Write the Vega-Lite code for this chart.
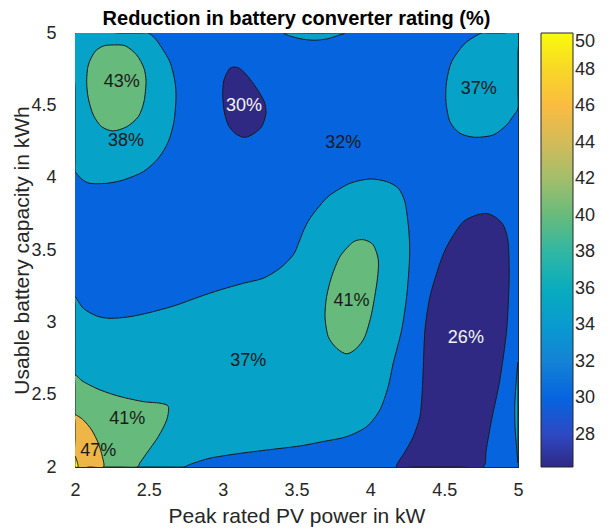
{
  "$schema": "https://vega.github.io/schema/vega-lite/v6.json",
  "width": 443,
  "height": 434,
  "autosize": {"type": "none"},
  "padding": {"left": 75, "top": 33, "right": 92, "bottom": 63},
  "background": "white",
  "title": {"text": "Reduction in battery converter rating (%)", "fontSize": 20, "fontWeight": "bold", "font": "Liberation Sans", "color": "#000000", "offset": -5, "anchor": "middle", "frame": "group"},
  "datasets": {
    "poly": [
      {"id":"B","L":0,"z":30,"i":0,"x":2,"y":2},{"id":"B","L":0,"z":30,"i":1,"x":5,"y":2},{"id":"B","L":0,"z":30,"i":2,"x":5,"y":5},{"id":"B","L":0,"z":30,"i":3,"x":2,"y":5},

      {"id":"C1","L":1,"z":35,"i":0,"x":2,"y":5},{"id":"C1","L":1,"z":35,"i":1,"x":2.3,"y":5},{"id":"C1","L":1,"z":35,"i":2,"x":2.45,"y":5},{"id":"C1","L":1,"z":35,"i":3,"x":2.496,"y":5},{"id":"C1","L":1,"z":35,"i":4,"x":2.54,"y":4.965},{"id":"C1","L":1,"z":35,"i":5,"x":2.575,"y":4.917},{"id":"C1","L":1,"z":35,"i":6,"x":2.643,"y":4.8},{"id":"C1","L":1,"z":35,"i":7,"x":2.677,"y":4.663},{"id":"C1","L":1,"z":35,"i":8,"x":2.684,"y":4.549},{"id":"C1","L":1,"z":35,"i":9,"x":2.67,"y":4.387},{"id":"C1","L":1,"z":35,"i":10,"x":2.632,"y":4.249},{"id":"C1","L":1,"z":35,"i":11,"x":2.564,"y":4.134},{"id":"C1","L":1,"z":35,"i":12,"x":2.462,"y":4.041},{"id":"C1","L":1,"z":35,"i":13,"x":2.327,"y":3.984},{"id":"C1","L":1,"z":35,"i":14,"x":2.215,"y":3.961},{"id":"C1","L":1,"z":35,"i":15,"x":2.1,"y":3.961},{"id":"C1","L":1,"z":35,"i":16,"x":2.045,"y":3.991},{"id":"C1","L":1,"z":35,"i":17,"x":2.011,"y":4.03},{"id":"C1","L":1,"z":35,"i":18,"x":2,"y":4.045},{"id":"C1","L":1,"z":35,"i":19,"x":2,"y":4.15},{"id":"C1","L":1,"z":35,"i":20,"x":2,"y":4.6},

      {"id":"C2","L":1,"z":35,"i":0,"x":3.42,"y":5},{"id":"C2","L":1,"z":35,"i":1,"x":3.47,"y":4.975},{"id":"C2","L":1,"z":35,"i":2,"x":3.55,"y":4.956},{"id":"C2","L":1,"z":35,"i":3,"x":3.63,"y":4.95},{"id":"C2","L":1,"z":35,"i":4,"x":3.71,"y":4.96},{"id":"C2","L":1,"z":35,"i":5,"x":3.78,"y":4.983},{"id":"C2","L":1,"z":35,"i":6,"x":3.82,"y":5},{"id":"C2","L":1,"z":35,"i":7,"x":3.62,"y":5},

      {"id":"C3","L":1,"z":35,"i":0,"x":5,"y":5},{"id":"C3","L":1,"z":35,"i":1,"x":4.9,"y":5},{"id":"C3","L":1,"z":35,"i":2,"x":4.8,"y":5},{"id":"C3","L":1,"z":35,"i":3,"x":4.754,"y":5},{"id":"C3","L":1,"z":35,"i":4,"x":4.69,"y":4.965},{"id":"C3","L":1,"z":35,"i":5,"x":4.63,"y":4.917},{"id":"C3","L":1,"z":35,"i":6,"x":4.55,"y":4.8},{"id":"C3","L":1,"z":35,"i":7,"x":4.516,"y":4.663},{"id":"C3","L":1,"z":35,"i":8,"x":4.512,"y":4.525},{"id":"C3","L":1,"z":35,"i":9,"x":4.539,"y":4.387},{"id":"C3","L":1,"z":35,"i":10,"x":4.607,"y":4.307},{"id":"C3","L":1,"z":35,"i":11,"x":4.708,"y":4.279},{"id":"C3","L":1,"z":35,"i":12,"x":4.832,"y":4.295},{"id":"C3","L":1,"z":35,"i":13,"x":4.923,"y":4.364},{"id":"C3","L":1,"z":35,"i":14,"x":4.97,"y":4.43},{"id":"C3","L":1,"z":35,"i":15,"x":5,"y":4.48},{"id":"C3","L":1,"z":35,"i":16,"x":5,"y":4.6},{"id":"C3","L":1,"z":35,"i":17,"x":5,"y":4.85},

      {"id":"C4","L":1,"z":35,"i":0,"x":2,"y":3.178},{"id":"C4","L":1,"z":35,"i":1,"x":2.056,"y":3.097},{"id":"C4","L":1,"z":35,"i":2,"x":2.147,"y":3.044},{"id":"C4","L":1,"z":35,"i":3,"x":2.237,"y":3.028},{"id":"C4","L":1,"z":35,"i":4,"x":2.372,"y":3.039},{"id":"C4","L":1,"z":35,"i":5,"x":2.53,"y":3.074},{"id":"C4","L":1,"z":35,"i":6,"x":2.689,"y":3.12},{"id":"C4","L":1,"z":35,"i":7,"x":2.846,"y":3.178},{"id":"C4","L":1,"z":35,"i":8,"x":2.982,"y":3.224},{"id":"C4","L":1,"z":35,"i":9,"x":3.139,"y":3.27},{"id":"C4","L":1,"z":35,"i":10,"x":3.275,"y":3.305},{"id":"C4","L":1,"z":35,"i":11,"x":3.388,"y":3.374},{"id":"C4","L":1,"z":35,"i":12,"x":3.478,"y":3.466},{"id":"C4","L":1,"z":35,"i":13,"x":3.515,"y":3.55},{"id":"C4","L":1,"z":35,"i":14,"x":3.55,"y":3.64},{"id":"C4","L":1,"z":35,"i":15,"x":3.591,"y":3.719},{"id":"C4","L":1,"z":35,"i":16,"x":3.66,"y":3.81},{"id":"C4","L":1,"z":35,"i":17,"x":3.727,"y":3.88},{"id":"C4","L":1,"z":35,"i":18,"x":3.862,"y":3.961},{"id":"C4","L":1,"z":35,"i":19,"x":3.997,"y":3.991},{"id":"C4","L":1,"z":35,"i":20,"x":4.11,"y":3.973},{"id":"C4","L":1,"z":35,"i":21,"x":4.189,"y":3.927},{"id":"C4","L":1,"z":35,"i":22,"x":4.234,"y":3.834},{"id":"C4","L":1,"z":35,"i":23,"x":4.257,"y":3.673},{"id":"C4","L":1,"z":35,"i":24,"x":4.266,"y":3.54},{"id":"C4","L":1,"z":35,"i":25,"x":4.264,"y":3.408},{"id":"C4","L":1,"z":35,"i":26,"x":4.246,"y":3.178},{"id":"C4","L":1,"z":35,"i":27,"x":4.212,"y":2.947},{"id":"C4","L":1,"z":35,"i":28,"x":4.155,"y":2.717},{"id":"C4","L":1,"z":35,"i":29,"x":4.121,"y":2.556},{"id":"C4","L":1,"z":35,"i":30,"x":4.065,"y":2.395},{"id":"C4","L":1,"z":35,"i":31,"x":3.975,"y":2.279},{"id":"C4","L":1,"z":35,"i":32,"x":3.84,"y":2.21},{"id":"C4","L":1,"z":35,"i":33,"x":3.681,"y":2.176},{"id":"C4","L":1,"z":35,"i":34,"x":3.52,"y":2.145},{"id":"C4","L":1,"z":35,"i":35,"x":3.32,"y":2.12},{"id":"C4","L":1,"z":35,"i":36,"x":3.095,"y":2.091},{"id":"C4","L":1,"z":35,"i":37,"x":2.914,"y":2.061},{"id":"C4","L":1,"z":35,"i":38,"x":2.801,"y":2.026},{"id":"C4","L":1,"z":35,"i":39,"x":2.76,"y":2.01},{"id":"C4","L":1,"z":35,"i":40,"x":2.733,"y":2},{"id":"C4","L":1,"z":35,"i":41,"x":2.6,"y":2},{"id":"C4","L":1,"z":35,"i":42,"x":2.3,"y":2},{"id":"C4","L":1,"z":35,"i":43,"x":2,"y":2},{"id":"C4","L":1,"z":35,"i":44,"x":2,"y":2.3},{"id":"C4","L":1,"z":35,"i":45,"x":2,"y":2.7},{"id":"C4","L":1,"z":35,"i":46,"x":2,"y":3.0},{"id":"C4","L":1,"z":35,"i":47,"x":2,"y":3.12},

      {"id":"C5","L":1,"z":35,"i":0,"x":5,"y":2.72},{"id":"C5","L":1,"z":35,"i":1,"x":4.993,"y":2.65},{"id":"C5","L":1,"z":35,"i":2,"x":4.985,"y":2.55},{"id":"C5","L":1,"z":35,"i":3,"x":4.978,"y":2.42},{"id":"C5","L":1,"z":35,"i":4,"x":4.98,"y":2.28},{"id":"C5","L":1,"z":35,"i":5,"x":4.99,"y":2.14},{"id":"C5","L":1,"z":35,"i":6,"x":5,"y":2.03},{"id":"C5","L":1,"z":35,"i":7,"x":5,"y":2.2},{"id":"C5","L":1,"z":35,"i":8,"x":5,"y":2.5},

      {"id":"N1","L":1,"z":26.25,"i":0,"x":3.049,"y":4.756},{"id":"N1","L":1,"z":26.25,"i":1,"x":3.106,"y":4.76},{"id":"N1","L":1,"z":26.25,"i":2,"x":3.162,"y":4.71},{"id":"N1","L":1,"z":26.25,"i":3,"x":3.23,"y":4.618},{"id":"N1","L":1,"z":26.25,"i":4,"x":3.282,"y":4.525},{"id":"N1","L":1,"z":26.25,"i":5,"x":3.293,"y":4.445},{"id":"N1","L":1,"z":26.25,"i":6,"x":3.264,"y":4.352},{"id":"N1","L":1,"z":26.25,"i":7,"x":3.196,"y":4.295},{"id":"N1","L":1,"z":26.25,"i":8,"x":3.14,"y":4.279},{"id":"N1","L":1,"z":26.25,"i":9,"x":3.083,"y":4.307},{"id":"N1","L":1,"z":26.25,"i":10,"x":3.038,"y":4.364},{"id":"N1","L":1,"z":26.25,"i":11,"x":3.011,"y":4.456},{"id":"N1","L":1,"z":26.25,"i":12,"x":3.0,"y":4.572},{"id":"N1","L":1,"z":26.25,"i":13,"x":3.009,"y":4.675},

      {"id":"N2","L":1,"z":26.25,"i":0,"x":4.178,"y":2},{"id":"N2","L":1,"z":26.25,"i":1,"x":4.235,"y":2.105},{"id":"N2","L":1,"z":26.25,"i":2,"x":4.291,"y":2.21},{"id":"N2","L":1,"z":26.25,"i":3,"x":4.336,"y":2.349},{"id":"N2","L":1,"z":26.25,"i":4,"x":4.35,"y":2.5},{"id":"N2","L":1,"z":26.25,"i":5,"x":4.358,"y":2.671},{"id":"N2","L":1,"z":26.25,"i":6,"x":4.37,"y":2.947},{"id":"N2","L":1,"z":26.25,"i":7,"x":4.404,"y":3.178},{"id":"N2","L":1,"z":26.25,"i":8,"x":4.471,"y":3.408},{"id":"N2","L":1,"z":26.25,"i":9,"x":4.516,"y":3.52},{"id":"N2","L":1,"z":26.25,"i":10,"x":4.561,"y":3.6},{"id":"N2","L":1,"z":26.25,"i":11,"x":4.629,"y":3.696},{"id":"N2","L":1,"z":26.25,"i":12,"x":4.72,"y":3.742},{"id":"N2","L":1,"z":26.25,"i":13,"x":4.79,"y":3.752},{"id":"N2","L":1,"z":26.25,"i":14,"x":4.85,"y":3.725},{"id":"N2","L":1,"z":26.25,"i":15,"x":4.9,"y":3.673},{"id":"N2","L":1,"z":26.25,"i":16,"x":4.925,"y":3.6},{"id":"N2","L":1,"z":26.25,"i":17,"x":4.936,"y":3.52},{"id":"N2","L":1,"z":26.25,"i":18,"x":4.94,"y":3.293},{"id":"N2","L":1,"z":26.25,"i":19,"x":4.923,"y":2.947},{"id":"N2","L":1,"z":26.25,"i":20,"x":4.877,"y":2.602},{"id":"N2","L":1,"z":26.25,"i":21,"x":4.821,"y":2.326},{"id":"N2","L":1,"z":26.25,"i":22,"x":4.785,"y":2.12},{"id":"N2","L":1,"z":26.25,"i":23,"x":4.764,"y":2},{"id":"N2","L":1,"z":26.25,"i":24,"x":4.6,"y":2},{"id":"N2","L":1,"z":26.25,"i":25,"x":4.3,"y":2},

      {"id":"G1","L":2,"z":40,"i":0,"x":2.248,"y":4.917},{"id":"G1","L":2,"z":40,"i":1,"x":2.339,"y":4.912},{"id":"G1","L":2,"z":40,"i":2,"x":2.418,"y":4.848},{"id":"G1","L":2,"z":40,"i":3,"x":2.467,"y":4.756},{"id":"G1","L":2,"z":40,"i":4,"x":2.481,"y":4.663},{"id":"G1","L":2,"z":40,"i":5,"x":2.467,"y":4.525},{"id":"G1","L":2,"z":40,"i":6,"x":2.429,"y":4.422},{"id":"G1","L":2,"z":40,"i":7,"x":2.35,"y":4.352},{"id":"G1","L":2,"z":40,"i":8,"x":2.259,"y":4.323},{"id":"G1","L":2,"z":40,"i":9,"x":2.181,"y":4.352},{"id":"G1","L":2,"z":40,"i":10,"x":2.124,"y":4.433},{"id":"G1","L":2,"z":40,"i":11,"x":2.09,"y":4.549},{"id":"G1","L":2,"z":40,"i":12,"x":2.079,"y":4.663},{"id":"G1","L":2,"z":40,"i":13,"x":2.09,"y":4.779},{"id":"G1","L":2,"z":40,"i":14,"x":2.135,"y":4.871},{"id":"G1","L":2,"z":40,"i":15,"x":2.192,"y":4.91},

      {"id":"G2","L":2,"z":40,"i":0,"x":3.963,"y":3.569},{"id":"G2","L":2,"z":40,"i":1,"x":4.02,"y":3.535},{"id":"G2","L":2,"z":40,"i":2,"x":4.054,"y":3.431},{"id":"G2","L":2,"z":40,"i":3,"x":4.047,"y":3.293},{"id":"G2","L":2,"z":40,"i":4,"x":4.009,"y":3.063},{"id":"G2","L":2,"z":40,"i":5,"x":3.963,"y":2.901},{"id":"G2","L":2,"z":40,"i":6,"x":3.907,"y":2.821},{"id":"G2","L":2,"z":40,"i":7,"x":3.84,"y":2.782},{"id":"G2","L":2,"z":40,"i":8,"x":3.772,"y":2.821},{"id":"G2","L":2,"z":40,"i":9,"x":3.715,"y":2.901},{"id":"G2","L":2,"z":40,"i":10,"x":3.693,"y":3.039},{"id":"G2","L":2,"z":40,"i":11,"x":3.704,"y":3.178},{"id":"G2","L":2,"z":40,"i":12,"x":3.738,"y":3.316},{"id":"G2","L":2,"z":40,"i":13,"x":3.794,"y":3.454},{"id":"G2","L":2,"z":40,"i":14,"x":3.873,"y":3.547},{"id":"G2","L":2,"z":40,"i":15,"x":3.918,"y":3.569},

      {"id":"G3","L":2,"z":40,"i":0,"x":2,"y":2.635},{"id":"G3","L":2,"z":40,"i":1,"x":2.056,"y":2.59},{"id":"G3","L":2,"z":40,"i":2,"x":2.169,"y":2.533},{"id":"G3","L":2,"z":40,"i":3,"x":2.305,"y":2.487},{"id":"G3","L":2,"z":40,"i":4,"x":2.462,"y":2.452},{"id":"G3","L":2,"z":40,"i":5,"x":2.575,"y":2.441},{"id":"G3","L":2,"z":40,"i":6,"x":2.632,"y":2.418},{"id":"G3","L":2,"z":40,"i":7,"x":2.621,"y":2.325},{"id":"G3","L":2,"z":40,"i":8,"x":2.564,"y":2.21},{"id":"G3","L":2,"z":40,"i":9,"x":2.485,"y":2.095},{"id":"G3","L":2,"z":40,"i":10,"x":2.44,"y":2.03},{"id":"G3","L":2,"z":40,"i":11,"x":2.418,"y":2},{"id":"G3","L":2,"z":40,"i":12,"x":2.3,"y":2},{"id":"G3","L":2,"z":40,"i":13,"x":2.1,"y":2},{"id":"G3","L":2,"z":40,"i":14,"x":2,"y":2},{"id":"G3","L":2,"z":40,"i":15,"x":2,"y":2.25},{"id":"G3","L":2,"z":40,"i":16,"x":2,"y":2.55},

      {"id":"O1","L":3,"z":45,"i":0,"x":2,"y":2.36},{"id":"O1","L":3,"z":45,"i":1,"x":2.056,"y":2.325},{"id":"O1","L":3,"z":45,"i":2,"x":2.113,"y":2.256},{"id":"O1","L":3,"z":45,"i":3,"x":2.158,"y":2.164},{"id":"O1","L":3,"z":45,"i":4,"x":2.185,"y":2.072},{"id":"O1","L":3,"z":45,"i":5,"x":2.192,"y":2},{"id":"O1","L":3,"z":45,"i":6,"x":2.1,"y":2},{"id":"O1","L":3,"z":45,"i":7,"x":2,"y":2},{"id":"O1","L":3,"z":45,"i":8,"x":2,"y":2.2},{"id":"O1","L":3,"z":45,"i":9,"x":2,"y":2.3},

      {"id":"Y1","L":4,"z":50,"i":0,"x":2,"y":2.075},{"id":"Y1","L":4,"z":50,"i":1,"x":2.011,"y":2.05},{"id":"Y1","L":4,"z":50,"i":2,"x":2.018,"y":2.022},{"id":"Y1","L":4,"z":50,"i":3,"x":2.021,"y":2},{"id":"Y1","L":4,"z":50,"i":4,"x":2,"y":2},{"id":"Y1","L":4,"z":50,"i":5,"x":2,"y":2.04}
    ],
    "labels": [
      {"t":"43%","x":2.316,"y":4.663,"tone":"d"},
      {"t":"38%","x":2.345,"y":4.254,"tone":"d"},
      {"t":"30%","x":3.144,"y":4.498,"tone":"l"},
      {"t":"32%","x":3.817,"y":4.238,"tone":"d"},
      {"t":"37%","x":4.735,"y":4.61,"tone":"d"},
      {"t":"37%","x":3.174,"y":2.733,"tone":"d"},
      {"t":"41%","x":3.873,"y":3.15,"tone":"d"},
      {"t":"26%","x":4.647,"y":2.89,"tone":"l"},
      {"t":"41%","x":2.354,"y":2.33,"tone":"d"},
      {"t":"47%","x":2.158,"y":2.113,"tone":"d"}
    ]
  },
  "layer": [
    {
      "data": {"name": "poly"},
      "transform": [{"filter": "datum.L == 0"}],
      "mark": {"type": "line", "interpolate": "linear-closed", "strokeWidth": 0, "clip": true},
      "encoding": {
        "x": {"field": "x", "type": "quantitative", "scale": {"domain": [2, 5], "nice": false, "zero": false}, "axis": {"values": [2, 2.5, 3, 3.5, 4, 4.5, 5], "format": "~g", "title": "Peak rated PV power in kW"}},
        "y": {"field": "y", "type": "quantitative", "scale": {"domain": [2, 5], "nice": false, "zero": false}, "axis": {"values": [2, 2.5, 3, 3.5, 4, 4.5, 5], "format": "~g", "title": "Usable battery capacity in kWh"}},
        "fill": {"field": "z", "type": "quantitative", "scale": {"type": "linear", "domain": [26.25, 28, 30, 32, 34, 35, 36, 38, 40, 42, 44, 45, 46, 48, 50], "range": ["#2f2984", "#2e48c2", "#0664df", "#1482d5", "#089bd0", "#06a2c8", "#09acbe", "#30b7a3", "#66bb7c", "#a3be6c", "#d2bb59", "#edb646", "#fabc41", "#f8d727", "#f9fb0e"], "interpolate": "rgb", "zero": false, "nice": false}, "legend": {"title": null, "values": [28, 30, 32, 34, 36, 38, 40, 42, 44, 46, 48, 50], "gradientLength": 434, "gradientThickness": 32, "offset": 22, "labelOverlap": false}},
        "detail": {"field": "id"},
        "order": {"field": "i", "type": "quantitative"}
      }
    },
    {
      "data": {"name": "poly"},
      "transform": [{"filter": "datum.L == 1"}],
      "mark": {"type": "line", "interpolate": "cardinal-closed", "tension": 0.2, "stroke": "#1a1a1a", "strokeWidth": 1, "clip": true},
      "encoding": {
        "x": {"field": "x", "type": "quantitative", "scale": {"domain": [2, 5], "nice": false, "zero": false}, "axis": null},
        "y": {"field": "y", "type": "quantitative", "scale": {"domain": [2, 5], "nice": false, "zero": false}, "axis": null},
        "fill": {"field": "z", "type": "quantitative", "scale": {"type": "linear", "domain": [26.25, 28, 30, 32, 34, 35, 36, 38, 40, 42, 44, 45, 46, 48, 50], "range": ["#2f2984", "#2e48c2", "#0664df", "#1482d5", "#089bd0", "#06a2c8", "#09acbe", "#30b7a3", "#66bb7c", "#a3be6c", "#d2bb59", "#edb646", "#fabc41", "#f8d727", "#f9fb0e"], "interpolate": "rgb", "zero": false, "nice": false}, "legend": {"title": null, "values": [28, 30, 32, 34, 36, 38, 40, 42, 44, 46, 48, 50], "gradientLength": 434, "gradientThickness": 32, "offset": 22, "labelOverlap": false}},
        "detail": {"field": "id"},
        "order": {"field": "i", "type": "quantitative"}
      }
    },
    {
      "data": {"name": "poly"},
      "transform": [{"filter": "datum.L == 2"}],
      "mark": {"type": "line", "interpolate": "cardinal-closed", "tension": 0.2, "stroke": "#1a1a1a", "strokeWidth": 1, "clip": true},
      "encoding": {
        "x": {"field": "x", "type": "quantitative", "scale": {"domain": [2, 5], "nice": false, "zero": false}, "axis": null},
        "y": {"field": "y", "type": "quantitative", "scale": {"domain": [2, 5], "nice": false, "zero": false}, "axis": null},
        "fill": {"field": "z", "type": "quantitative", "scale": {"type": "linear", "domain": [26.25, 28, 30, 32, 34, 35, 36, 38, 40, 42, 44, 45, 46, 48, 50], "range": ["#2f2984", "#2e48c2", "#0664df", "#1482d5", "#089bd0", "#06a2c8", "#09acbe", "#30b7a3", "#66bb7c", "#a3be6c", "#d2bb59", "#edb646", "#fabc41", "#f8d727", "#f9fb0e"], "interpolate": "rgb", "zero": false, "nice": false}, "legend": {"title": null, "values": [28, 30, 32, 34, 36, 38, 40, 42, 44, 46, 48, 50], "gradientLength": 434, "gradientThickness": 32, "offset": 22, "labelOverlap": false}},
        "detail": {"field": "id"},
        "order": {"field": "i", "type": "quantitative"}
      }
    },
    {
      "data": {"name": "poly"},
      "transform": [{"filter": "datum.L == 3"}],
      "mark": {"type": "line", "interpolate": "cardinal-closed", "tension": 0.2, "stroke": "#1a1a1a", "strokeWidth": 1, "clip": true},
      "encoding": {
        "x": {"field": "x", "type": "quantitative", "scale": {"domain": [2, 5], "nice": false, "zero": false}, "axis": null},
        "y": {"field": "y", "type": "quantitative", "scale": {"domain": [2, 5], "nice": false, "zero": false}, "axis": null},
        "fill": {"field": "z", "type": "quantitative", "scale": {"type": "linear", "domain": [26.25, 28, 30, 32, 34, 35, 36, 38, 40, 42, 44, 45, 46, 48, 50], "range": ["#2f2984", "#2e48c2", "#0664df", "#1482d5", "#089bd0", "#06a2c8", "#09acbe", "#30b7a3", "#66bb7c", "#a3be6c", "#d2bb59", "#edb646", "#fabc41", "#f8d727", "#f9fb0e"], "interpolate": "rgb", "zero": false, "nice": false}, "legend": {"title": null, "values": [28, 30, 32, 34, 36, 38, 40, 42, 44, 46, 48, 50], "gradientLength": 434, "gradientThickness": 32, "offset": 22, "labelOverlap": false}},
        "detail": {"field": "id"},
        "order": {"field": "i", "type": "quantitative"}
      }
    },
    {
      "data": {"name": "poly"},
      "transform": [{"filter": "datum.L == 4"}],
      "mark": {"type": "line", "interpolate": "cardinal-closed", "tension": 0.2, "stroke": "#1a1a1a", "strokeWidth": 1, "clip": true},
      "encoding": {
        "x": {"field": "x", "type": "quantitative", "scale": {"domain": [2, 5], "nice": false, "zero": false}, "axis": null},
        "y": {"field": "y", "type": "quantitative", "scale": {"domain": [2, 5], "nice": false, "zero": false}, "axis": null},
        "fill": {"field": "z", "type": "quantitative", "scale": {"type": "linear", "domain": [26.25, 28, 30, 32, 34, 35, 36, 38, 40, 42, 44, 45, 46, 48, 50], "range": ["#2f2984", "#2e48c2", "#0664df", "#1482d5", "#089bd0", "#06a2c8", "#09acbe", "#30b7a3", "#66bb7c", "#a3be6c", "#d2bb59", "#edb646", "#fabc41", "#f8d727", "#f9fb0e"], "interpolate": "rgb", "zero": false, "nice": false}, "legend": {"title": null, "values": [28, 30, 32, 34, 36, 38, 40, 42, 44, 46, 48, 50], "gradientLength": 434, "gradientThickness": 32, "offset": 22, "labelOverlap": false}},
        "detail": {"field": "id"},
        "order": {"field": "i", "type": "quantitative"}
      }
    },
    {
      "data": {"name": "labels"},
      "mark": {"type": "text", "fontSize": 18, "font": "Liberation Sans", "align": "center", "baseline": "middle"},
      "encoding": {
        "x": {"field": "x", "type": "quantitative", "scale": {"domain": [2, 5], "nice": false, "zero": false}, "axis": {"orient": "top", "labels": false, "title": null, "values": [2, 2.5, 3, 3.5, 4, 4.5, 5]}},
        "y": {"field": "y", "type": "quantitative", "scale": {"domain": [2, 5], "nice": false, "zero": false}, "axis": {"orient": "right", "labels": false, "title": null, "values": [2, 2.5, 3, 3.5, 4, 4.5, 5]}},
        "text": {"field": "t"},
        "color": {"condition": {"test": "datum.tone == 'l'", "value": "#f4f4f4"}, "value": "#1a1a1a"}
      }
    }
  ],
  "resolve": {"axis": {"x": "independent", "y": "independent"}},
  "config": {
    "font": "Liberation Sans",
    "view": {"stroke": null},
    "axis": {"grid": false, "domainColor": "#262626", "domainWidth": 1, "tickColor": "#262626", "tickWidth": 1, "tickSize": -5, "labelColor": "#262626", "titleColor": "#262626", "labelFont": "Liberation Sans", "titleFont": "Liberation Sans", "labelFontSize": 18, "titleFontSize": 21, "titleFontWeight": "normal", "zindex": 1, "labelFlush": false},
    "axisX": {"labelPadding": 19, "titlePadding": 6},
    "axisY": {"labelPadding": 24, "titlePadding": -2},
    "legend": {"labelFont": "Liberation Sans", "labelFontSize": 18, "labelColor": "#262626", "labelOffset": 6, "labelBaseline": "middle", "gradientStrokeColor": "#262626", "gradientStrokeWidth": 1, "padding": 0}
  }
}
